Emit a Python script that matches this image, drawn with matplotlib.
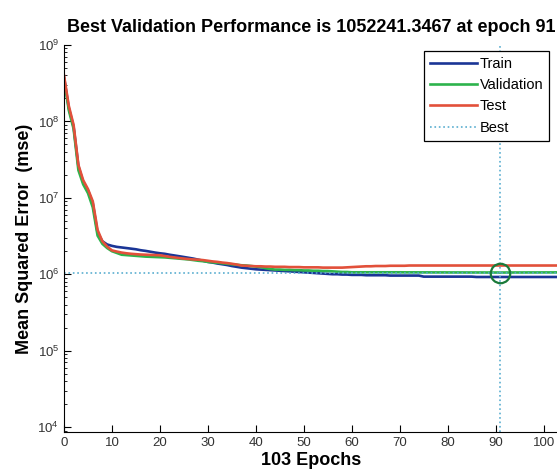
# training performance curve (mse per epoch) with best validation marker
import matplotlib.pyplot as plt
from matplotlib.ticker import LogLocator, NullFormatter, LogFormatterMathtext

plt.rcParams['font.family'] = ['Liberation Sans', 'DejaVu Sans']
plt.rcParams['mathtext.fontset'] = 'custom'
plt.rcParams['mathtext.rm'] = 'Liberation Sans'
plt.rcParams['mathtext.default'] = 'regular'

# mse values in units of 1e6, epochs 0..103
unit = 1e6
train = [380, 150, 85, 26, 16, 12.5, 8.5, 3.5, 2.7, 2.45,
         2.35, 2.28, 2.24, 2.2, 2.16, 2.12, 2.06, 2.02, 1.97, 1.92,
         1.88, 1.85, 1.8, 1.76, 1.72, 1.68, 1.64, 1.6, 1.55, 1.5,
         1.45, 1.42, 1.38, 1.35, 1.32, 1.28, 1.25, 1.22, 1.2, 1.18,
         1.16, 1.15, 1.14, 1.13, 1.12, 1.11, 1.1, 1.09, 1.08, 1.07,
         1.06, 1.05, 1.04, 1.03, 1.02, 1.01, 1.0, 1.0, 0.99, 0.99,
         0.98, 0.98, 0.98, 0.97, 0.97, 0.97, 0.97, 0.97, 0.96, 0.96,
         0.96, 0.96, 0.96, 0.96, 0.96, 0.93, 0.93, 0.93, 0.93, 0.93,
         0.93, 0.93, 0.93, 0.93, 0.93, 0.93, 0.92, 0.92, 0.92, 0.92,
         0.92, 0.92, 0.92, 0.92, 0.92, 0.92, 0.92, 0.92, 0.92, 0.92,
         0.92, 0.92, 0.92, 0.92]
validation = [360, 140, 80, 23, 15, 11.5, 7.5, 3.2, 2.5, 2.2,
              2.0, 1.9, 1.8, 1.78, 1.76, 1.74, 1.72, 1.7, 1.69, 1.68,
              1.67, 1.66, 1.64, 1.62, 1.6, 1.58, 1.56, 1.53, 1.5, 1.48,
              1.45, 1.43, 1.41, 1.39, 1.37, 1.35, 1.33, 1.31, 1.3, 1.28,
              1.26, 1.24, 1.2, 1.17, 1.15, 1.15, 1.14, 1.14, 1.13, 1.13,
              1.12, 1.12, 1.11, 1.11, 1.1, 1.1, 1.09, 1.08, 1.07, 1.07,
              1.06, 1.06, 1.06, 1.06, 1.06, 1.06, 1.06, 1.06, 1.06, 1.06,
              1.06, 1.058, 1.058, 1.058, 1.057, 1.057, 1.057, 1.056, 1.056, 1.056,
              1.055, 1.055, 1.055, 1.055, 1.054, 1.054, 1.054, 1.054, 1.053, 1.053,
              1.053, 1.052241, 1.053, 1.053, 1.054, 1.054, 1.054, 1.055, 1.055, 1.055,
              1.056, 1.056, 1.056, 1.057]
test = [400, 160, 90, 27, 17, 13, 9, 3.8, 2.7, 2.3,
        2.05, 1.98, 1.92, 1.88, 1.85, 1.83, 1.81, 1.8, 1.79, 1.78,
        1.77, 1.73, 1.69, 1.66, 1.63, 1.6, 1.58, 1.56, 1.55, 1.53,
        1.5, 1.47, 1.45, 1.42, 1.4, 1.37, 1.34, 1.3, 1.29, 1.28,
        1.27, 1.27, 1.26, 1.26, 1.25, 1.25, 1.25, 1.24, 1.24, 1.24,
        1.23, 1.23, 1.23, 1.23, 1.22, 1.22, 1.22, 1.22, 1.22, 1.23,
        1.24, 1.25, 1.26, 1.27, 1.27, 1.28, 1.28, 1.28, 1.29, 1.29,
        1.29, 1.29, 1.3, 1.3, 1.3, 1.3, 1.3, 1.3, 1.3, 1.3,
        1.3, 1.3, 1.3, 1.3, 1.3, 1.3, 1.3, 1.3, 1.3, 1.3,
        1.3, 1.3, 1.3, 1.3, 1.3, 1.3, 1.3, 1.3, 1.3, 1.3,
        1.3, 1.3, 1.3, 1.3]
epochs = list(range(len(train)))
best_epoch = 91
best_perf = 1052241.3467

fig = plt.figure(figsize=(5.57, 4.71), dpi=100)
ax = fig.add_axes([64/557, 39/471, 494/557, 387/471])

ax.plot(epochs, [v*unit for v in train], color='#1a3596', lw=1.9, label='Train')
ax.plot(epochs, [v*unit for v in validation], color='#2db34c', lw=1.9, label='Validation')
ax.plot(epochs, [v*unit for v in test], color='#e2503a', lw=1.9, label='Test')
ax.axvline(best_epoch, color='#5aaed0', ls=':', lw=1.2, label='Best')
ax.axhline(best_perf, color='#5aaed0', ls=':', lw=1.2)
ax.plot([best_epoch], [best_perf], 'o', ms=14, mfc='none', mec='#1a7a3a', mew=1.6)

ax.set_yscale('log')
ax.set_ylim(10**3.935, 1e9)
ax.set_xlim(0, 103)
ax.set_xticks(range(0, 101, 10))
ax.yaxis.set_major_locator(LogLocator(base=10, numticks=10))
ax.yaxis.set_major_formatter(LogFormatterMathtext())
ax.yaxis.set_minor_locator(LogLocator(base=10, subs=range(2, 10), numticks=20))
ax.yaxis.set_minor_formatter(NullFormatter())
ax.tick_params(direction='in', labelsize=9.5, labelcolor='#333333', length=5, width=0.8)
ax.tick_params(which='minor', direction='in', length=2.5, width=0.6)
ax.spines['top'].set_visible(False)
ax.spines['right'].set_visible(False)

ax.set_title('Best Validation Performance is 1052241.3467 at epoch 91',
             fontsize=13, fontweight='bold', pad=9)
ax.set_xlabel('103 Epochs', fontsize=13, fontweight='bold', labelpad=2.5)
ax.set_ylabel('Mean Squared Error  (mse)', fontsize=13, fontweight='bold', labelpad=3)

leg = ax.legend(loc='upper right', bbox_to_anchor=(549/557, 420/471),
                bbox_transform=fig.transFigure, borderaxespad=0,
                fontsize=10.5, handlelength=3.2, handletextpad=0.2,
                labelspacing=0.5, fancybox=False, framealpha=1, edgecolor='black')
leg.get_frame().set_linewidth(0.9)

fig.savefig('out.png', dpi=100)
